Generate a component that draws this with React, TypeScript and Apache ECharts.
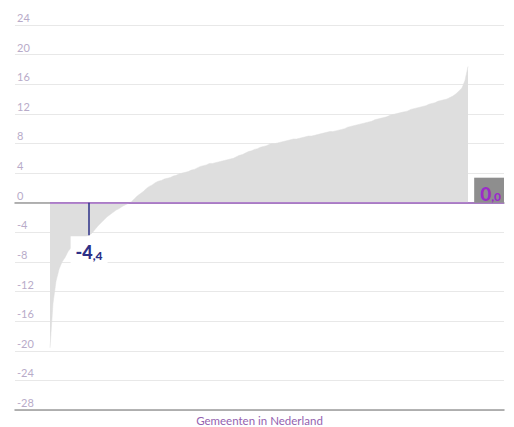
import React, { useEffect, useRef } from "react";
import * as echarts from "echarts";

// Sorted values per municipality
const municipalityValues: number[] = [
  -19.6, -13.6, -10.6, -9.0, -8.0, -7.4, -6.6, -6.1, -5.6, -5.3,
  -5.0, -4.8, -4.6, -4.4, -4.1, -3.6, -3.1, -2.7, -2.3, -1.9,
  -1.6, -1.3, -1.0, -0.8, -0.5, -0.3, -0.1, 0.1, 0.5, 0.9,
  1.2, 1.5, 1.9, 2.2, 2.4, 2.7, 2.9, 3.0, 3.2, 3.3,
  3.4, 3.6, 3.7, 3.9, 4.0, 4.1, 4.2, 4.4, 4.5, 4.7,
  4.9, 5.0, 5.1, 5.3, 5.3, 5.4, 5.5, 5.6, 5.7, 5.8,
  5.9, 6.0, 6.2, 6.4, 6.5, 6.7, 6.9, 7.0, 7.2, 7.3,
  7.5, 7.6, 7.7, 7.9, 8.0, 8.0, 8.1, 8.2, 8.3, 8.4,
  8.5, 8.6, 8.6, 8.7, 8.8, 8.9, 9.0, 9.0, 9.1, 9.2,
  9.3, 9.4, 9.5, 9.6, 9.6, 9.7, 9.8, 9.9, 10.0, 10.2,
  10.3, 10.4, 10.5, 10.6, 10.7, 10.8, 10.9, 11.0, 11.2, 11.3,
  11.4, 11.5, 11.6, 11.8, 11.9, 12.0, 12.1, 12.2, 12.3, 12.4,
  12.6, 12.7, 12.8, 12.9, 13.0, 13.1, 13.3, 13.4, 13.5, 13.7,
  13.8, 13.9, 14.0, 14.2, 14.4, 14.7, 15.1, 15.5, 16.5, 18.4,
];

const highlightIndex = 13;
const highlightValue = -4.4;
const highlightLabel = ["-4", ",4"];
const referenceValue = 0;
const referenceLabel = ["0", ",0"];

const yMin = -28;
const yMax = 24;
const yInterval = 4;

const xMin = -11.64;
const xMax = 150.97;

const axisName = "Gemeenten in Nederland";

export default function App() {
  const ref = useRef<HTMLDivElement>(null);

  useEffect(() => {
    if (!ref.current) return;
    const chart = echarts.init(ref.current, undefined, { renderer: "svg" });
    const font = "Lato, 'Open Sans', sans-serif";
    chart.setOption({
      animation: false,
      textStyle: { fontFamily: font },
      grid: { left: 15, right: 10, top: 25, bottom: 17, containLabel: false, outerBoundsMode: "none" },
      xAxis: [
        {
          type: "value",
          min: xMin,
          max: xMax,
          position: "bottom",
          axisLine: { show: true, onZero: true, lineStyle: { color: "#9a9a9a", width: 1.5 } },
          axisTick: { show: false },
          axisLabel: { show: false },
          splitLine: { show: false },
        },
        {
          type: "value",
          min: 0,
          max: 1,
          position: "bottom",
          axisLine: { show: true, onZero: false, lineStyle: { color: "#9a9a9a", width: 1.5 } },
          axisTick: { show: false },
          axisLabel: { show: false },
          splitLine: { show: false },
          name: axisName,
          nameLocation: "middle",
          nameGap: 4,
          nameTextStyle: { color: "#9462b0", fontSize: 11.5, fontFamily: font, verticalAlign: "top" },
        },
      ],
      yAxis: {
        type: "value",
        min: yMin,
        max: yMax,
        interval: yInterval,
        axisLine: { show: false },
        axisTick: { show: false },
        axisLabel: {
          inside: true,
          margin: 2,
          verticalAlign: "bottom",
          align: "left",
          color: "#b8abc9",
          fontSize: 11,
          fontFamily: font,
          padding: [0, 0, 2, 0],
        },
        splitLine: { show: true, lineStyle: { color: "#e8e8e8", width: 1 } },
      },
      series: [
        {
          type: "line",
          xAxisIndex: 0,
          data: municipalityValues.map((v, i) => [i, v]),
          showSymbol: false,
          symbol: "none",
          lineStyle: { width: 0.5, color: "#dedede" },
          areaStyle: { color: "#dedede", opacity: 1 },
          silent: true,
          markLine: {
            silent: true,
            symbol: ["none", "none"],
            animation: false,
            data: [
              [
                {
                  coord: [0, referenceValue],
                  lineStyle: { color: "#a468c8", width: 1.5, type: "solid" },
                  label: {
                    show: true,
                    position: "insideEndTop",
                    distance: 0,
                    formatter: `{a|${referenceLabel[0]}}{b|${referenceLabel[1]}}`,
                    backgroundColor: "#8e8e8e",
                    padding: [3, 3, 0, 6],
                    rich: {
                      a: { fontSize: 19, fontWeight: 900, color: "#9b2cc8", lineHeight: 22, verticalAlign: "bottom", fontFamily: font },
                      b: { fontSize: 12, fontWeight: 900, color: "#9b2cc8", lineHeight: 16, verticalAlign: "bottom", fontFamily: font },
                    },
                  },
                },
                { coord: [xMax, referenceValue] },
              ],
              [
                {
                  coord: [highlightIndex, 0],
                  lineStyle: { color: "#2d3087", width: 1.5, type: "solid" },
                  label: {
                    show: true,
                    position: "end",
                    distance: 1,
                    formatter: `{a|${highlightLabel[0]}}{b|${highlightLabel[1]}}`,
                    backgroundColor: "#ffffff",
                    padding: [5, 5, 4, 5],
                    rich: {
                      a: { fontSize: 18, fontWeight: 900, color: "#2d3087", lineHeight: 20, verticalAlign: "bottom", fontFamily: font },
                      b: { fontSize: 12, fontWeight: 900, color: "#2d3087", lineHeight: 15, verticalAlign: "bottom", fontFamily: font },
                    },
                  },
                },
                { coord: [highlightIndex, highlightValue] },
              ],
            ],
          },
        },
      ],
    });
    return () => chart.dispose();
  }, []);

  return <div ref={ref} style={{ width: 514, height: 427, position: "absolute", left: 0, top: 0 }} />;
}
